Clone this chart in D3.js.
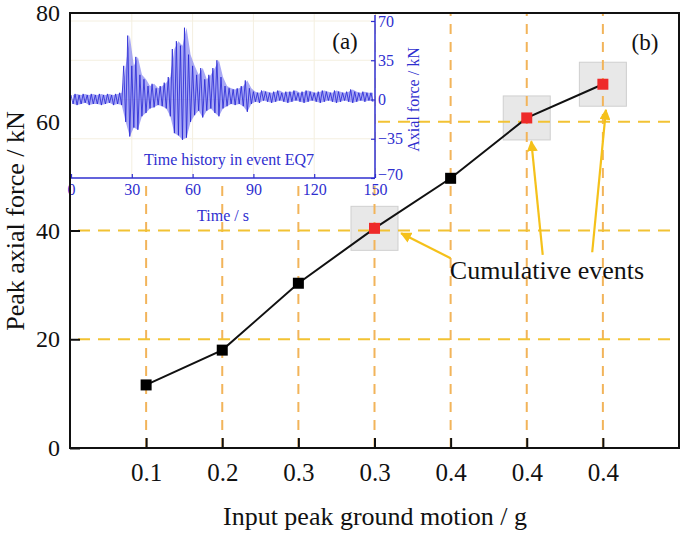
<!DOCTYPE html>
<html><head><meta charset="utf-8">
<script src="https://cdn.jsdelivr.net/npm/d3@7"></script>
<style>
html,body{margin:0;padding:0;background:#fff;}
svg{display:block;font-family:"Liberation Serif","Times New Roman",serif;}
</style></head>
<body>
<svg id="chart" width="685" height="537"></svg>
<script>
// ---------- main chart data ----------
const categories = ["0.1","0.2","0.3","0.3","0.4","0.4","0.4"];
const peakForce = [11.6, 18.0, 30.3, 40.4, 49.6, 60.7, 66.9];
const cumulative = [false, false, false, true, false, true, true];
const yTicks = [0, 20, 40, 60, 80];
const gridY = [20, 40, 60];
// annotation arrows: [x, y] in data units (x = category position)
const arrowTails = [[5.0, 34.9], [6.21, 35.5], [6.86, 36.0]];
const arrowHeads = [[4.35, 39.5], [6.06, 56.4], [7.04, 62.2]];
const annotText = "Cumulative events";

// ---------- inset data: 2 s bins of the time history (upper / lower envelope, kN) ----------
const binStart = 0, binWidth = 2;
const sigHi = [4,5,4,5,4,5,4,5,4,5,4,5,6,
  30,57,30,38,22,18,12,14,10,12,15,20,
  45,52,48,64,40,30,22,28,18,22,28,35,20,12,10,9,10,12,17,10,
  7,6,8,7,6,7,8,6,7,7,8,6,7,8,7,6,7,8,7,6,8,7,6,7,9,7,6,7,6,6];
const sigLo = [-4,-5,-4,-3,-5,-4,-4,-5,-4,-3,-5,-4,-5,
  -20,-33,-25,-27,-15,-12,-8,-7,-5,-6,-8,-15,
  -30,-32,-36,-34,-20,-14,-10,-16,-10,-8,-12,-15,-8,-6,-4,-5,-4,-6,-11,-4,
  -2,-3,-1,-2,-3,-2,-1,-2,-3,-2,-1,-2,-3,-2,-1,-2,-3,-2,-1,-2,-3,-2,-1,-2,-3,-2,-1,-2,-1,-2];
const insetXTicks = [0, 30, 60, 90, 120, 150];
const insetYTicks = [-70, -35, 0, 35, 70];

// ---------- layout ----------
const svg = d3.select("#chart");
const L = 70, R = 679, T = 13, B = 448;
const x = d3.scaleLinear().domain([0, 8]).range([L, R]);
const y = d3.scaleLinear().domain([0, 80]).range([B, T]);
const xPos = i => x(i + 1);

const vGridColor = "#f2b45a", hGridColor = "#f2c233", arrowColor = "#f5c11a";

// highlight boxes
svg.append("g").selectAll("rect")
  .data(peakForce.map((v,i)=>({v,i})).filter(d=>cumulative[d.i]))
  .join("rect")
  .attr("x", d => xPos(d.i) - 23.5).attr("y", d => y(d.v) - 22)
  .attr("width", 47).attr("height", 44)
  .attr("fill", "#e8e8e8").attr("stroke", "#cfcfcf").attr("stroke-width", 1);

// grid lines
svg.append("g").selectAll("line")
  .data(categories.map((c,i)=>i)).join("line")
  .attr("x1", d => xPos(d)).attr("x2", d => xPos(d))
  .attr("y1", B).attr("y2", T)
  .attr("stroke", vGridColor).attr("stroke-width", 2).attr("stroke-dasharray", "10,8");
svg.append("g").selectAll("line")
  .data(gridY).join("line")
  .attr("x1", L).attr("x2", R)
  .attr("y1", d => y(d)).attr("y2", d => y(d))
  .attr("stroke", hGridColor).attr("stroke-width", 2).attr("stroke-dasharray", "12,8")
  .attr("stroke-dashoffset", -8);

// axes
const xAxis = d3.axisBottom(x).tickValues(categories.map((c,i)=>i+1))
  .tickFormat(d => categories[d-1]).tickSize(-10).tickPadding(15);
const gx = svg.append("g").attr("transform", `translate(0,${B})`).call(xAxis);
const yAxis = d3.axisLeft(y).tickValues(yTicks).tickSize(-10).tickPadding(10);
const gy = svg.append("g").attr("transform", `translate(${L},0)`).call(yAxis);
[gx, gy].forEach(g => {
  g.select(".domain").remove();
  g.selectAll(".tick line").attr("stroke", "#111").attr("stroke-width", 2);
  g.selectAll(".tick text").attr("fill", "#111")
    .style("font-family", '"Liberation Serif", serif');
});
gx.selectAll(".tick text").style("font-size", "25px");
gy.selectAll(".tick text").style("font-size", "24px");

// inset
const iL = 71, iR = 375, iT = T, iB = 178;
const tx = d3.scaleLinear().domain([0, 150]).range([iL, iR]);
const ty = d3.scaleLinear().domain([-70, 70]).range([iB, 21]);
const blue = "#2f2fcf";
const inset = svg.append("g");
inset.append("rect").attr("x", iL).attr("y", iT).attr("width", iR - iL).attr("height", iB - iT).attr("fill", "#fff");
inset.append("g").selectAll("line").data(insetXTicks.slice(1, -1)).join("line")
  .attr("x1", d => tx(d)).attr("x2", d => tx(d)).attr("y1", iB).attr("y2", iT)
  .attr("stroke", "#f4efe0").attr("stroke-width", 1);
inset.append("g").selectAll("line").data(insetYTicks.slice(1)).join("line")
  .attr("x1", iL).attr("x2", iR).attr("y1", d => ty(d)).attr("y2", d => ty(d))
  .attr("stroke", "#f4efe0").attr("stroke-width", 1);

const sigPts = [];
sigHi.forEach((h, i) => {
  const t0 = binStart + i * binWidth;
  sigPts.push([t0, h]);
  sigPts.push([t0 + binWidth / 2, sigLo[i]]);
});
const area = d3.area()
  .x((d,i) => tx(binStart + i * binWidth + binWidth / 2))
  .y0((d,i) => ty(sigLo[i])).y1(d => ty(d));
inset.append("path").datum(sigHi).attr("d", area).attr("fill", "#7070ee").attr("opacity", 0.6);
inset.append("path").datum(sigPts)
  .attr("d", d3.line().x(d => tx(d[0])).y(d => ty(d[1])))
  .attr("fill", "none").attr("stroke", "#2424d4").attr("stroke-width", 0.8).attr("stroke-linejoin", "round");

const ix = d3.axisBottom(tx).tickValues(insetXTicks).tickSize(-4).tickPadding(6);
const gix = inset.append("g").attr("transform", `translate(0,${iB})`).call(ix);
const iy = d3.axisRight(ty).tickValues(insetYTicks).tickSize(-4).tickPadding(3);
const giy = inset.append("g").attr("transform", `translate(${iR},0)`).call(iy);
[gix, giy].forEach(g => {
  g.select(".domain").remove();
  g.selectAll(".tick line").attr("stroke", blue).attr("stroke-width", 1.2);
  g.selectAll(".tick text").attr("fill", blue).style("font-size", "16px")
    .style("font-family", '"Liberation Serif", serif');
});
giy.selectAll(".tick text").filter(d => d === -70).attr("dy", "0.1em");
inset.append("line").attr("x1", iL).attr("x2", iR).attr("y1", iB).attr("y2", iB).attr("stroke", blue).attr("stroke-width", 1.5);
inset.append("line").attr("x1", iR).attr("x2", iR).attr("y1", iT + 2).attr("y2", iB).attr("stroke", blue).attr("stroke-width", 1.5);
inset.append("text").attr("x", tx(78)).attr("y", ty(-58))
  .attr("text-anchor", "middle").attr("fill", blue).style("font-size", "16px")
  .text("Time history in event EQ7");
inset.append("text").attr("x", (iL + iR) / 2).attr("y", 221)
  .attr("text-anchor", "middle").attr("fill", blue).style("font-size", "16px").text("Time / s");
inset.append("text").attr("transform", `translate(419,${ty(0)}) rotate(-90)`)
  .attr("text-anchor", "middle").attr("fill", blue).style("font-size", "16px").text("Axial force / kN");
inset.append("text").attr("x", 345).attr("y", 49).attr("text-anchor", "middle")
  .attr("fill", "#111").style("font-size", "23px").text("(a)");

// data line and markers
svg.append("path").datum(peakForce)
  .attr("d", d3.line().x((d,i) => xPos(i)).y(d => y(d)))
  .attr("fill", "none").attr("stroke", "#111").attr("stroke-width", 2);
svg.append("g").selectAll("rect").data(peakForce).join("rect")
  .attr("x", (d,i) => xPos(i) - 5.5).attr("y", d => y(d) - 5.5)
  .attr("width", 11).attr("height", 11)
  .attr("fill", (d,i) => cumulative[i] ? "#ee2a2a" : "#000");

// arrows
const defs = svg.append("defs");
defs.append("marker").attr("id", "ah").attr("viewBox", "0 0 10 10")
  .attr("refX", 9).attr("refY", 5).attr("markerWidth", 5).attr("markerHeight", 5)
  .attr("orient", "auto").attr("markerUnits", "strokeWidth")
  .append("path").attr("d", "M0,0 L10,5 L0,10 Z").attr("fill", arrowColor);
svg.append("g").selectAll("line").data(arrowTails).join("line")
  .attr("x1", d => x(d[0])).attr("y1", d => y(d[1]))
  .attr("x2", (d,i) => x(arrowHeads[i][0])).attr("y2", (d,i) => y(arrowHeads[i][1]))
  .attr("stroke", arrowColor).attr("stroke-width", 2.2).attr("marker-end", "url(#ah)");
svg.append("text").attr("x", x(4.99)).attr("y", y(31.0))
  .attr("fill", "#111").style("font-size", "26px").text(annotText);

// frame
svg.append("rect").attr("x", L).attr("y", T).attr("width", R - L).attr("height", B - T)
  .attr("fill", "none").attr("stroke", "#111").attr("stroke-width", 2);
svg.append("text").attr("x", 645).attr("y", 50).attr("text-anchor", "middle")
  .attr("fill", "#111").style("font-size", "23px").text("(b)");

// axis titles
svg.append("text").attr("x", 375).attr("y", 525).attr("text-anchor", "middle")
  .attr("fill", "#111").style("font-size", "26px").text("Input peak ground motion / g");
svg.append("text").attr("transform", `translate(24,221) rotate(-90)`)
  .attr("text-anchor", "middle").attr("fill", "#111").style("font-size", "26px").text("Peak axial force / kN");
</script>
</body></html>
